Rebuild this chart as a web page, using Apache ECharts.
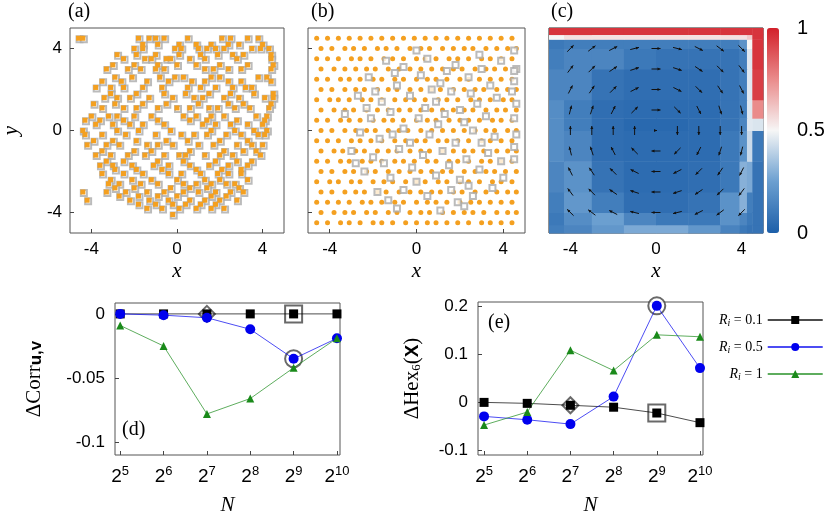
<!DOCTYPE html>
<html><head><meta charset="utf-8">
<script src="https://cdn.jsdelivr.net/npm/echarts@6/dist/echarts.min.js"></script>
<style>html,body{margin:0;padding:0;background:#fff}#c{width:830px;height:517px}</style>
</head><body><div id="c"></div>
<script>
// ---------- DATA ----------
const Nexp = [5,6,7,8,9,10];
const corrR01 = [0,0,0,0,0,0];
const corrR05 = [0,-0.001,-0.003,-0.012,-0.035,-0.019];
const corrR1  = [-0.009,-0.025,-0.078,-0.066,-0.042,-0.019];
const hexR01 = [0,-0.002,-0.006,-0.010,-0.022,-0.042];
const hexR05 = [-0.029,-0.036,-0.045,0.012,0.200,0.071];
const hexR1  = [-0.047,-0.020,0.108,0.066,0.140,0.136];
const xTicks = [-4,0,4];
const cbTicks = [0,0.5,1];
// panel (a) rows: [y, [x...]]
const aRows = [
 [4.5,[-4.6,-4.4,-1.8,-1.3,-1.0,-0.6,0.5,2.1,2.5,3.3,3.8]],
 [4.2,[-1.6,-0.9,0.1,0.9,1.6,2.4,2.9,4.0]],
 [4.0,[-2.0,-1.6,-0.1,0.2,1.0,1.4,1.8,2.2,3.5,3.9,4.3]],
 [3.7,[-2.8,-1.9,-1.0,0.1,1.1,1.9,2.6,3.1,4.4]],
 [3.5,[-2.5,-1.5,-1.2,-0.5,-0.3,0.6,1.3,2.8,4.4]],
 [3.2,[-3.0,-2.0,-0.9,0.0,0.9,2.0,3.3,4.5]],
 [3.0,[-3.3,-2.3,-1.7,-1.0,-0.6,1.3,1.7,2.4,3.0,4.4]],
 [2.6,[-2.9,-2.1,-0.8,-0.1,0.3,1.6,2.0,3.8,4.2]],
 [2.4,[-3.5,-2.6,-1.4,-0.4,0.7,1.3,2.4,3.0,4.4]],
 [2.1,[-3.8,-3.1,-2.5,-1.6,-0.7,0.5,1.1,1.8,2.6,3.2,3.5]],
 [1.8,[-3.1,-1.9,-0.6,0.4,1.5,2.5,3.6,4.5]],
 [1.6,[-3.4,-2.8,-2.2,-1.3,-0.2,0.8,1.2,2.2,2.9,4.1,4.5]],
 [1.3,[-3.9,-2.9,-1.6,-0.5,1.0,2.4,3.1,4.4]],
 [1.1,[-3.5,-2.5,-1.9,-0.9,0,0.6,1.5,1.9,2.7,3.4,4.3]],
 [0.7,[-4.0,-3.2,-2.8,-2.0,-1.2,0.3,0.9,1.6,2.2,3.7,4.2]],
 [0.5,[-4.3,-3.6,-2.5,-0.9,0.6,1.4,2.8,4.1]],
 [0.3,[-3.8,-3.0,-2.2,-1.6,-0.6,1.2,1.8,2.5,3.3,4.0]],
 [0.0,[-4.4,-2.8,-1.8,-0.3,1.6,2.7,3.6,4.2]],
 [-0.2,[-4.3,-3.5,-2.4,-1.0,0.2,0.8,1.4,2.3,3.0,3.8,4.1]],
 [-0.5,[-3.9,-3.0,-1.9,-0.5,0.5,2.0,3.3]],
 [-0.7,[-4.2,-3.3,-2.7,-1.4,-0.9,-0.2,1.0,1.7,2.8,3.5,4.0]],
 [-1.0,[-3.5,-2.0,-1.2,0.6,2.2,3.1,3.7]],
 [-1.2,[-3.8,-3.1,-2.3,-1.5,-0.6,0.1,0.4,1.3,2.0,2.6,3.9]],
 [-1.5,[-3.3,-2.5,-0.9,0.3,1.8,2.8,3.5]],
 [-1.7,[-3.6,-3.0,-2.1,-1.1,-0.4,0.6,1.5,2.4,3.3]],
 [-1.9,[-2.9,-1.9,-0.7,0.9,2.1,3.0]],
 [-2.1,[-3.5,-2.5,-1.6,-0.4,0.2,1.1,1.9,2.4,3.0]],
 [-2.4,[-3.1,-2.1,-1.2,0.0,1.3,2.0,3.3]],
 [-2.6,[-3.2,-2.7,-1.7,-0.9,0.3,0.9,1.6,2.3,2.7]],
 [-2.8,[-2.9,-2.0,-0.3,0.6,1.4,2.9]],
 [-3.0,[-4.4,-3.3,-2.4,-1.4,-0.6,0.3,1.0,1.8,2.5,3.1]],
 [-3.2,[-2.7,-1.8,-0.9,0.0,1.6,2.3]],
 [-3.4,[-4.2,-2.2,-1.3,-0.4,0.6,1.3,2.0,2.8]],
 [-3.6,[-1.8,-1.0,-0.2,0.4,1.1,1.8]],
 [-3.8,[-1.4,-0.7,0.1,0.9,1.6,2.2]],
 [-4.1,[-0.2]]
];
// panel (b) orange rows
const bRows = [
 [4.5,[-4.6,-4.1,-3.6,-3.1,-2.6,-2.1,-1.6,-1.1,-0.6,-0.1,0.4,0.9,1.4,1.9,2.4,2.9,3.4,3.9,4.4]],
 [4.0,[-4.4,-3.9,-3.3,-2.9,-2.4,-1.8,-1.4,-0.9,-0.3,0.2,0.6,1.2,1.7,2.2,2.6,3.2,3.7,4.2,4.6]],
 [3.5,[-4.6,-4.1,-3.6,-3.0,-2.6,-2.1,-1.5,-1.1,-0.6,0.0,0.4,0.9,1.5,1.9,2.4,3.0,3.4,3.9,4.4]],
 [3.0,[-4.4,-3.8,-3.3,-2.8,-2.3,-1.9,-1.3,-0.8,-0.3,0.2,0.7,1.2,1.7,2.1,2.7,3.2,3.6,4.1,4.6]],
 [2.5,[-4.6,-4.1,-3.5,-3.1,-2.6,-2.0,-1.6,-1.0,-0.6,0.0,0.5,0.9,1.4,2.0,2.4,2.9,3.4,3.9,4.4]],
 [2.0,[-4.4,-3.9,-3.3,-2.8,-2.4,-1.8,-1.3,-0.9,-0.3,0.2,0.7,1.1,1.7,2.2,2.7,3.1,3.7,4.2,4.6]],
 [1.5,[-4.6,-4.0,-3.6,-3.1,-2.5,-2.1,-1.6,-1.0,-0.5,-0.1,0.4,1.0,1.4,1.9,2.5,2.9,3.4,4.0,4.4]],
 [1.0,[-4.4,-3.8,-3.3,-2.9,-2.3,-1.8,-1.3,-0.8,-0.3,0.2,0.7,1.2,1.7,2.2,2.6,3.2,3.7,4.1,4.6]],
 [0.5,[-4.6,-4.1,-3.5,-3.1,-2.6,-2.0,-1.5,-1.1,-0.6,0.0,0.5,0.9,1.5,2.0,2.4,2.9,3.5,3.9,4.4]],
 [0.0,[-4.4,-3.9,-3.3,-2.8,-2.3,-1.9,-1.3,-0.8,-0.4,0.2,0.7,1.2,1.7,2.2,2.7,3.2,3.6,4.2,4.6]],
 [-0.5,[-4.6,-4.1,-3.6,-3.0,-2.6,-2.1,-1.6,-1.0,-0.5,0.0,0.4,1.0,1.4,1.9,2.4,3.0,3.4,3.9,4.4]],
 [-1.0,[-4.4,-3.8,-3.4,-2.8,-2.4,-1.8,-1.3,-0.9,-0.3,0.2,0.6,1.2,1.7,2.2,2.6,3.1,3.7,4.2,4.6]],
 [-1.5,[-4.6,-4.1,-3.5,-3.1,-2.5,-2.1,-1.6,-1.0,-0.6,-0.1,0.5,0.9,1.5,1.9,2.4,3.0,3.4,3.9,4.4]],
 [-2.0,[-4.4,-3.9,-3.3,-2.9,-2.3,-1.9,-1.3,-0.8,-0.3,0.2,0.7,1.2,1.6,2.2,2.7,3.2,3.6,4.1,4.6]],
 [-2.5,[-4.6,-4.0,-3.6,-3.0,-2.6,-2.0,-1.5,-1.1,-0.5,0.0,0.4,1.0,1.4,2.0,2.4,2.9,3.5,3.9,4.4]],
 [-3.0,[-4.4,-3.9,-3.3,-2.8,-2.4,-1.8,-1.4,-0.8,-0.3,0.2,0.7,1.1,1.7,2.1,2.7,3.2,3.7,4.2,4.6]],
 [-3.5,[-4.6,-4.1,-3.6,-3.1,-2.5,-2.1,-1.6,-1.0,-0.6,0.0,0.5,0.9,1.4,2.0,2.5,2.9,3.4,3.9,4.4]],
 [-4.0,[-4.4,-3.8,-3.3,-2.9,-2.3,-1.9,-1.3,-0.9,-0.3,0.2,0.6,1.2,1.7,2.2,2.6,3.1,3.7,4.2,4.6]],
 [-4.5,[-4.6,-4.1,-3.5,-3.1,-2.6,-2.0,-1.6,-1.1,-0.5,0.0,0.5,0.9,1.4,1.9,2.4,3.0,3.4,3.9,4.4]]
];
// panel (b) gray squares
const bGray = [
 [-1.4,3.4],[-0.6,3.1],[0.5,3.5],[1.8,3.2],[2.9,3.7],[4.5,3.9],[4.6,3.0],[-2.2,2.6],[-0.9,2.2],[0.2,2.7],[1.1,2.3],[2.4,2.6],[3.4,2.2],[4.5,2.4],
 [-2.7,1.7],[-1.6,1.4],[-0.3,1.7],[0.9,1.4],[1.6,1.9],[2.8,1.3],[3.7,1.6],[4.6,1.3],[-3.3,0.8],[-2.1,0.6],[-1.2,0.9],[0.1,0.6],[1.3,0.8],[2.2,0.4],[3.2,0.7],[4.5,0.6],
 [-2.6,-0.1],[-1.7,-0.4],[-0.6,0.1],[0.6,-0.2],[1.8,-0.6],[2.6,0.0],[3.6,-0.3],[4.6,-0.2],[-3.0,-1.0],[-2.0,-1.3],[-0.8,-0.9],[0.3,-1.2],[1.2,-1.0],[2.3,-1.4],[3.3,-1.1],[4.5,-1.4],
 [-2.4,-2.0],[-1.2,-2.3],[-0.2,-1.8],[0.9,-2.2],[2.0,-2.4],[2.9,-1.9],[4.0,-2.3],[-1.8,-3.0],[-0.6,-2.9],[0.5,-3.2],[1.6,-2.9],[2.6,-3.2],[3.5,-2.8],[-0.9,-3.8],[1.1,-3.9],[2.2,-3.7],
 [-1.9,1.9],[0.7,2.0],[2.0,1.0],[-0.3,-0.6],[1.5,-1.7],[-1.5,-1.6],[3.0,3.0],[0.0,3.9],
 [-1.0,2.8],[1.4,2.9],[3.9,3.4],[-2.3,1.1],[0.4,1.1],[2.5,1.8],[4.4,1.9],[-1.1,-0.2],[1.0,0.3],[3.0,-0.6],[4.5,-0.8],[-2.8,-1.6],[0.0,-2.5],[2.4,-2.7],[3.9,-1.5],[-1.3,-3.4],[1.9,-3.5],[4.5,2.9]
];
// panel (c) heat map cells
const cXEdges = [-5,-4.3,-3,-1.5,0,1.5,3,3.9,4.25,4.5,5];
const cYEdges = [-5,-4.6,-4,-3,-1.5,0,0.6,1.5,3,4,4.45,4.68,5];
const cVals = [
 [.12,.15,.22,.28,.28,.22,.14,.1,.08,.08],
 [.1,.18,.25,.15,.1,.1,.2,.15,.1,.08],
 [.12,.22,.12,.06,.06,.08,.2,.3,.12,.08],
 [.15,.2,.08,.05,.05,.06,.1,.3,.28,.08],
 [.18,.15,.06,.05,.05,.05,.1,.2,.42,.1],
 [.18,.12,.06,.04,.04,.05,.08,.15,.46,.45],
 [.18,.12,.06,.05,.05,.05,.08,.12,.46,.75],
 [.15,.15,.08,.06,.06,.06,.08,.12,.46,.93],
 [.12,.15,.15,.1,.08,.08,.08,.12,.46,.95],
 [.1,.12,.12,.12,.12,.12,.12,.2,.5,.95],
 [.5,.55,.55,.55,.55,.55,.55,.55,.6,.95],
 [.95,.95,.95,.95,.95,.95,.95,.95,.95,.95]
];
// panel (c) arrows: positions and directions (deg), rows from y=4 to y=-4
const arrowPos = [-4,-3,-2,-1,0,1,2,3,4];
const arrowAng = [
 [45,37,27,14,0,-14,-27,-37,-45],
 [53,45,34,18,0,-18,-34,-45,-53],
 [63,56,45,27,0,-27,-45,-56,-63],
 [76,72,63,45,0,-45,-63,-72,-76],
 [90,90,90,90,0,-90,-90,-90,-90],
 [104,108,117,135,180,-135,-117,-108,-104],
 [117,124,135,153,180,-153,-135,-124,-117],
 [127,135,146,162,180,-162,-146,-135,-127],
 [135,143,153,166,180,-166,-153,-143,-135]
];
// ---------- BUILD ----------
const aPts=[]; aRows.forEach(r=>r[1].forEach(x=>aPts.push([x,r[0]])));
const bPts=[]; bRows.forEach(r=>r[1].forEach(x=>bPts.push([x,r[0]])));
const cCells=[]; cVals.forEach((row,j)=>row.forEach((v,i)=>cCells.push([cXEdges[i],cXEdges[i+1],cYEdges[j],cYEdges[j+1],v])));
const arrows=[]; arrowAng.forEach((row,j)=>row.forEach((a,i)=>arrows.push([arrowPos[i],arrowPos[arrowPos.length-1-j],a])));
const pairs=(ys)=>Nexp.map((n,i)=>[n,ys[i]]);

const tickFont={fontFamily:'Liberation Sans',fontSize:17,color:'#000'};
const nameFont={fontFamily:'Liberation Serif',fontStyle:'italic',fontSize:21,color:'#000'};
const noLine={show:false,onZero:false};
function topX(gi){return {gridIndex:gi,type:'value',min:-5,max:5,name:'x',nameLocation:'middle',nameGap:28,nameTextStyle:nameFont,
 axisLine:noLine,splitLine:{show:false},axisTick:{inside:true,length:4,customValues:xTicks,lineStyle:{color:'#444'}},
 axisLabel:{customValues:xTicks,margin:8,...tickFont}};}
function topY(gi,lab){return {gridIndex:gi,type:'value',min:-5,max:5,name:lab?'y':'',nameLocation:'middle',nameGap:48,nameTextStyle:nameFont,
 axisLine:noLine,splitLine:{show:false},axisTick:{inside:true,length:4,customValues:xTicks,lineStyle:{color:'#444'}},
 axisLabel:{show:lab,customValues:xTicks,margin:8,...tickFont}};}
const supRich={b:{fontFamily:'Liberation Sans',fontSize:19,color:'#000',padding:[6,0,0,0]},s:{fontFamily:'Liberation Sans',fontSize:13,color:'#000',padding:[0,0,4,0]}};
function botX(gi,mn,mx){return {gridIndex:gi,type:'value',min:mn,max:mx,name:'N',nameLocation:'middle',nameGap:40,nameTextStyle:nameFont,
 axisLine:noLine,splitLine:{show:false},axisTick:{inside:true,length:4,customValues:Nexp,lineStyle:{color:'#444'}},
 axisLabel:{customValues:Nexp,margin:6,formatter:v=>'{b|2}{s|'+v+'}',rich:supRich}};}
const gridStyle={show:true,borderColor:'#555',borderWidth:1,backgroundColor:'transparent'};
const legRich={r:{fontFamily:'Liberation Serif',fontStyle:'italic',fontSize:14},i:{fontFamily:'Liberation Serif',fontStyle:'italic',fontSize:10,padding:[6,0,0,0]},t:{fontFamily:'Liberation Serif',fontSize:14}};
const names=['R01','R05','R1'];
const legendLabels={R01:'0.1',R05:'0.5',R1:'1'};
const lineSer=(name,xi,data,color,sym,size)=>({name,type:'line',xAxisIndex:xi,yAxisIndex:xi,data,symbol:sym,symbolSize:size,
 itemStyle:{color},lineStyle:{color,width:1,opacity:0.7},z:3});
const ringSer=(xi,data,sym,size)=>({type:'scatter',xAxisIndex:xi,yAxisIndex:xi,data,symbol:sym,symbolSize:size,
 itemStyle:{color:'#444',borderColor:'#444',borderWidth:1},z:2,silent:true});

const option={
 animation:false,
 grid:[
  {left:67,top:28,width:217,height:205,...gridStyle},
  {left:308,top:28,width:217,height:205,...gridStyle},
  {left:549,top:28,width:214,height:205,...gridStyle,borderColor:'#222'},
  {left:767,top:28,width:12,height:205,show:false},
  {left:115,top:303,width:225,height:154,...gridStyle},
  {left:478,top:302,width:225,height:154,...gridStyle}
 ],
 xAxis:[topX(0),topX(1),topX(2),
  {gridIndex:3,type:'value',min:0,max:1,show:false},
  botX(4,4.88,10.07),botX(5,4.86,10.07)],
 yAxis:[topY(0,true),topY(1,false),topY(2,false),
  {gridIndex:3,type:'value',min:0,max:1,position:'right',axisLine:noLine,splitLine:{show:false},
   axisTick:{show:false},axisLabel:{customValues:cbTicks,margin:18,...tickFont,fontSize:20}},
  {gridIndex:4,type:'value',min:-0.11,max:0.0085,name:'{a|ΔCorr}{b|u,v}',nameLocation:'middle',nameGap:70,
   nameTextStyle:{rich:{a:{fontFamily:'Liberation Serif',fontSize:21,color:'#000'},b:{fontFamily:'Liberation Sans',fontWeight:'bold',fontSize:17,color:'#000',padding:[4,0,0,0]}}},
   axisLine:noLine,splitLine:{show:false},axisTick:{inside:true,length:4,customValues:[-0.1,-0.05,0],lineStyle:{color:'#444'}},
   axisLabel:{customValues:[-0.1,-0.05,0],margin:10,...tickFont}},
  {gridIndex:5,type:'value',min:-0.109,max:0.208,name:'{a|ΔHex}{s|6}{a|(}{b|X}{a|)}',nameLocation:'middle',nameGap:55,
   nameTextStyle:{rich:{a:{fontFamily:'Liberation Serif',fontSize:21,color:'#000'},s:{fontFamily:'Liberation Serif',fontSize:13,color:'#000',padding:[8,0,0,0]},b:{fontFamily:'Liberation Sans',fontWeight:'bold',fontSize:19,color:'#000'}}},
   axisLine:noLine,splitLine:{show:false},axisTick:{inside:true,length:4,customValues:[-0.1,0,0.1,0.2],lineStyle:{color:'#444'}},
   axisLabel:{customValues:[-0.1,0,0.1,0.2],margin:10,...tickFont}}
 ],
 visualMap:{type:'continuous',min:0,max:1,dimension:4,seriesIndex:4,calculable:false,show:true,left:752,top:13,itemWidth:12,itemHeight:205,
  text:['',''],showLabel:false,inRange:{color:['#1d5fa9','#6b9fd0','#f6f6f6','#ea8b8b','#d2202a']}},
 legend:{orient:'vertical',left:714,top:308,itemGap:12,itemWidth:55,itemHeight:10,align:'right',
  data:names,formatter:n=>'{r|R}{i|i}{t| = '+legendLabels[n]+'}',textStyle:{rich:legRich,color:'#000'}},
 graphic:[
  {type:'text',left:68,top:2,style:{text:'(a)',font:'20px "Liberation Serif"',fill:'#000'}},
  {type:'text',left:311,top:2,style:{text:'(b)',font:'20px "Liberation Serif"',fill:'#000'}},
  {type:'text',left:551,top:2,style:{text:'(c)',font:'20px "Liberation Serif"',fill:'#000'}},
  {type:'text',left:122,top:420,style:{text:'(d)',font:'20px "Liberation Serif"',fill:'#000'}},
  {type:'text',left:488,top:313,style:{text:'(e)',font:'20px "Liberation Serif"',fill:'#000'}}
 ],
 series:[
  {type:'scatter',xAxisIndex:0,yAxisIndex:0,data:aPts,symbol:'emptyRect',symbolSize:6,symbolOffset:[1,1],itemStyle:{color:'#aaa',borderColor:'#aaa',borderWidth:1},silent:true},
  {type:'scatter',xAxisIndex:0,yAxisIndex:0,data:aPts,symbol:'rect',symbolSize:5,itemStyle:{color:'#f4a020',opacity:1},silent:true},
  {type:'scatter',xAxisIndex:1,yAxisIndex:1,data:bPts,symbol:'circle',symbolSize:5,itemStyle:{color:'#f4a020',opacity:1},silent:true},
  {type:'scatter',xAxisIndex:1,yAxisIndex:1,data:bGray,symbol:'emptyRect',symbolSize:6,itemStyle:{color:'#aaa',borderColor:'#999',borderWidth:1},silent:true},
  {type:'custom',xAxisIndex:2,yAxisIndex:2,data:cCells,silent:true,
   renderItem:(p,api)=>{const a=api.coord([api.value(0),api.value(3)]),b=api.coord([api.value(1),api.value(2)]);
    return {type:'rect',shape:{x:a[0],y:a[1],width:b[0]-a[0]+0.5,height:b[1]-a[1]+0.5},style:{fill:api.visual('color')}};}},
  {type:'custom',xAxisIndex:2,yAxisIndex:2,data:arrows,silent:true,z:5,
   renderItem:(p,api)=>{const c=api.coord([api.value(0),api.value(1)]);const t=api.value(2)*Math.PI/180;
    const L=(api.value(0)===0&&api.value(1)===0)?2:9;const dx=Math.cos(t),dy=-Math.sin(t);
    const x0=c[0]-dx*L/2,y0=c[1]-dy*L/2,x1=c[0]+dx*L/2,y1=c[1]+dy*L/2;const h=3;
    return {type:'group',children:[
     {type:'line',shape:{x1:x0,y1:y0,x2:x1,y2:y1},style:{stroke:'#111',lineWidth:1}},
     {type:'polygon',shape:{points:[[x1,y1],[x1-dx*h-dy*h*0.5,y1-dy*h+dx*h*0.5],[x1-dx*h+dy*h*0.5,y1-dy*h-dx*h*0.5]]},style:{fill:'#111'}}]};}},
  lineSer('R01',4,pairs(corrR01),'#000','rect',9),
  lineSer('R05',4,pairs(corrR05),'#0000ee','circle',10),
  lineSer('R1',4,pairs(corrR1),'#1a8a1a','triangle',8),
  ringSer(4,[[7,0]],'emptyDiamond',16),ringSer(4,[[9,0]],'emptyRect',17),ringSer(4,[[9,corrR05[4]]],'emptyCircle',17),
  lineSer('R01',5,pairs(hexR01),'#000','rect',9),
  lineSer('R05',5,pairs(hexR05),'#0000ee','circle',10),
  lineSer('R1',5,pairs(hexR1),'#1a8a1a','triangle',8),
  ringSer(5,[[7,hexR01[2]]],'emptyDiamond',16),ringSer(5,[[9,hexR01[4]]],'emptyRect',17),ringSer(5,[[9,hexR05[4]]],'emptyCircle',17)
 ]
};
echarts.init(document.getElementById('c'),null,{renderer:'canvas'}).setOption(option);
</script></body></html>
